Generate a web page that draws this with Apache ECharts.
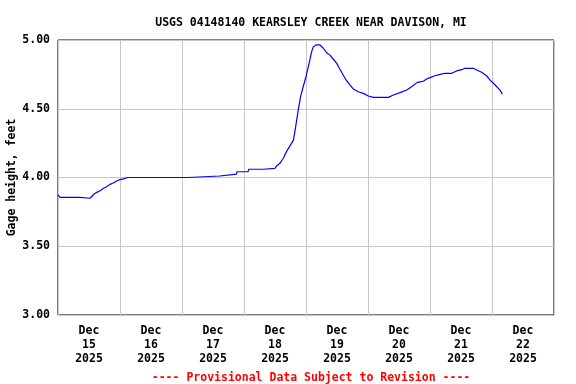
<!DOCTYPE html>
<html>
<head>
<meta charset="utf-8">
<script src="https://cdn.jsdelivr.net/npm/echarts@6/dist/echarts.min.js"></script>
<style>
html,body{margin:0;padding:0;background:#fff;}
#chart{width:576px;height:384px;}
</style>
</head>
<body>
<div id="chart"></div>
<script>
// Hours since Dec 15 2025 00:00
const hours = [0,0.8,8.5,8.9,12.4,13,14,15,16.3,17.5,18.8,20.1,21.4,22.7,24,25.3,27,50.3,50.5,62.6,62.8,69.1,69.3,73.6,73.8,79.4,79.6,84,84.6,85.9,87.2,88.5,89.8,91.1,91.7,92.4,93.0,93.9,94.9,96.0,96.9,97.5,98.2,98.8,99.9,101.4,102.7,104.0,105.3,106.6,107.9,108.9,110.4,111.7,113.0,114.3,116.2,118.2,120.1,122.1,127.9,129.8,132.4,135.0,136.9,138.9,140.1,141.4,142.7,144.0,145.9,147.9,149.8,152.4,154.3,156.3,157.5,160.8,162.1,164.0,165.9,167.2,169.2,171.1,172.0];
// Gage height, feet
const heights = [3.873,3.856,3.856,3.849,3.849,3.86,3.88,3.892,3.904,3.92,3.933,3.95,3.96,3.975,3.985,3.99,4.0,4.0,4.011,4.011,4.025,4.025,4.042,4.042,4.06,4.06,4.067,4.067,4.084,4.103,4.14,4.19,4.23,4.27,4.333,4.418,4.49,4.588,4.66,4.733,4.806,4.855,4.915,4.95,4.964,4.964,4.94,4.908,4.89,4.86,4.83,4.794,4.745,4.704,4.673,4.644,4.624,4.612,4.593,4.583,4.583,4.60,4.617,4.636,4.66,4.69,4.695,4.70,4.716,4.726,4.74,4.75,4.758,4.758,4.775,4.784,4.794,4.794,4.782,4.765,4.74,4.71,4.673,4.636,4.605];
const dayLabels = ['Dec\n15\n2025','Dec\n16\n2025','Dec\n17\n2025','Dec\n18\n2025','Dec\n19\n2025','Dec\n20\n2025','Dec\n21\n2025','Dec\n22\n2025'];
const titleText = 'USGS 04148140 KEARSLEY CREEK NEAR DAVISON, MI';
const yName = 'Gage height, feet';
const footer = '---- Provisional Data Subject to Revision ----';

const FONT = '"DejaVu Sans Mono", "Liberation Mono", monospace';
const chart = echarts.init(document.getElementById('chart'), null, {renderer:'canvas'});
chart.setOption({
  animation:false,
  backgroundColor:'#fff',
  title:[
    {text:titleText, left:306, top:12, textAlign:'center',
     textStyle:{fontFamily:FONT, fontWeight:'bold', fontSize:11.5, color:'#000'}},
    {text:footer, left:306, top:367, textAlign:'center',
     textStyle:{fontFamily:FONT, fontWeight:'bold', fontSize:11.5, color:'#ff0000'}}
  ],
  grid:{left:58, right:22, top:40, bottom:69, containLabel:false, outerBoundsMode:'none',
        show:true, borderColor:'#000', borderWidth:1, backgroundColor:'transparent'},
  xAxis:[
    {type:'value', min:0, max:192, interval:24,
     axisLine:{show:false}, axisTick:{show:false}, axisLabel:{show:false},
     splitLine:{show:true, lineStyle:{color:'#c8c8c8', width:1}}},
    {type:'category', data:dayLabels, boundaryGap:true, position:'bottom',
     axisLine:{show:false}, axisTick:{show:false}, splitLine:{show:false},
     axisLabel:{interval:0, margin:9, fontFamily:FONT, fontWeight:'bold', fontSize:11.5, color:'#000', lineHeight:14}}
  ],
  yAxis:{type:'value', min:3, max:5, interval:0.5,
    name:yName, nameLocation:'middle', nameGap:40, nameMoveOverlap:false,
    nameTextStyle:{fontFamily:FONT, fontWeight:'bold', fontSize:11.5, color:'#000'},
    axisLine:{show:false}, axisTick:{show:false},
    axisLabel:{margin:8, fontFamily:FONT, fontWeight:'bold', fontSize:11.5, color:'#000', formatter:v=>v.toFixed(2)},
    splitLine:{show:true, lineStyle:{color:'#c8c8c8', width:1}}},
  series:[{
    type:'line', xAxisIndex:0, data:hours.map((h,i)=>[h,heights[i]]),
    showSymbol:false, smooth:false, lineStyle:{color:'#0000ff', width:1.2}, z:3
  }]
});
</script>
</body>
</html>
